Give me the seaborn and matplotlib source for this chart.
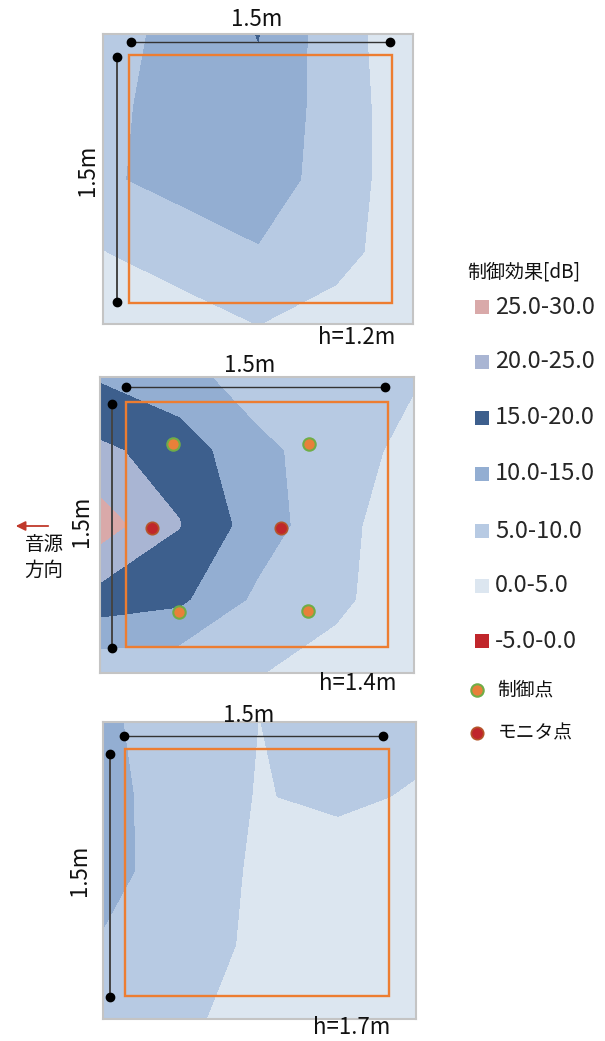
import numpy as np
import matplotlib
matplotlib.use("Agg")
import matplotlib.pyplot as plt
from matplotlib.patches import Rectangle
import seaborn as sns

# ---------------- data ----------------
# grid node coordinates [m] (measurement area is 0 .. 1.5 m)
grid_x = [-0.15, 0.30, 0.75, 1.20, 1.65]
grid_y = [-0.15, 0.30, 0.75, 1.20, 1.65]

# control effect [dB] at grid nodes (rows: top -> bottom)
effect_h12 = [
    [8.0, 11.5, 15.1, 7.0, 2.0],
    [8.0, 13.0, 14.0, 7.5, 2.0],
    [9.5, 11.1, 13.0, 7.5, 2.0],
    [4.8, 8.0, 9.6, 7.0, 1.5],
    [3.0, 2.0, 5.05, 2.6, 2.0],
]
effect_h14 = [
    [14.4, 11.4, 8.0, 8.0, 5.5],
    [20.9, 17.9, 11.0, 8.0, 3.0],
    [27.4, 20.2, 12.5, 6.5, 2.0],
    [17.8, 16.0, 9.0, 6.0, 2.0],
    [6.1, 6.3, 5.2, 3.0, 2.0],
]
effect_h17 = [
    [11.0, 7.0, 4.95, 7.0, 6.5],
    [11.5, 7.6, 4.7, 6.0, 4.5],
    [11.0, 8.5, 4.0, 2.2, 3.0],
    [9.7, 8.0, 3.65, 3.0, 3.0],
    [8.0, 6.5, 1.7, 3.0, 3.0],
]
height_labels = ["h=1.2m", "h=1.4m", "h=1.7m"]

levels = [-5, 0, 5, 10, 15, 20, 25, 30]
level_labels = ["-5.0-0.0", "0.0-5.0", "5.0-10.0", "10.0-15.0",
                "15.0-20.0", "20.0-25.0", "25.0-30.0"]
level_colors = ["#c0262b", "#dce6f0", "#b7cae3", "#93aed2",
                "#3d5f8d", "#a9b5d3", "#d9a9a9"]

control_x = [0.27, 1.05, 0.30, 1.04]
control_y = [0.26, 0.26, 1.28, 1.27]
monitor_x = [0.15, 0.89]
monitor_y = [0.77, 0.77]

legend_title = "制御効果[dB]"
control_label = "制御点"
monitor_label = "モニタ点"
source_label = "音源\n方向"
size_label = "1.5m"

# ---------------- style ----------------
sns.set_theme(style="white")
plt.rcParams["font.family"] = ["Noto Sans CJK JP", "DejaVu Sans"]

W, H = 605, 1041
fig = plt.figure(figsize=(W / 100, H / 100), dpi=100)

# pixel boxes of the three panels (left, top, right, bottom)
panel_boxes = [(103, 34, 413, 324), (100, 377, 414, 673), (103, 722, 416, 1019)]
rects = [(0.0, -0.02, 1.527, 1.518), (0.0, 0.0, 1.5, 1.49), (-0.025, 0.015, 1.493, 1.51)]
hlines = [(-0.102, 0.011, 1.517), (-0.089, 0.0, 1.484), (-0.063, -0.027, 1.463)]
vlines = [(-0.070, -0.009, 1.515), (-0.079, 0.016, 1.498), (-0.110, 0.041, 1.518)]
effects = [effect_h12, effect_h14, effect_h17]

axes = []
for i, (l, t, r, b) in enumerate(panel_boxes):
    ax = fig.add_axes([l / W, 1 - b / H, (r - l) / W, (b - t) / H])
    Z = np.array(effects[i])
    cs = ax.contourf(grid_x, grid_y, Z, levels=levels, colors=level_colors)
    cs.set_edgecolor("face")
    cs.set_linewidth(0.6)
    ax.set_xlim(grid_x[0], grid_x[-1])
    ax.set_ylim(grid_y[-1], grid_y[0])
    ax.set_xticks([])
    ax.set_yticks([])
    ax.set_xlabel("")
    ax.set_ylabel("")
    for s in ax.spines.values():
        s.set_color("#c4c4c4")
        s.set_linewidth(1.5)
    # measurement area
    x0, y0, x1, y1 = rects[i]
    ax.add_patch(Rectangle((x0, y0), x1 - x0, y1 - y0, fill=False,
                           edgecolor="#ed7d31", linewidth=1.7, zorder=5))
    # dimension lines
    hy, hx0, hx1 = hlines[i]
    ax.plot([hx0, hx1], [hy, hy], color="#333333", lw=1.0, zorder=6,
            marker="o", markersize=6, markerfacecolor="black", markeredgecolor="black")
    vx, vy0, vy1 = vlines[i]
    ax.plot([vx, vx], [vy0, vy1], color="#444444", lw=1.4, zorder=6,
            marker="o", markersize=6, markerfacecolor="black", markeredgecolor="black")
    axes.append(ax)

# control / monitor points on h=1.4m
sns.scatterplot(x=control_x, y=control_y, ax=axes[1], s=80, color="#e8803a",
                edgecolor="#70ad47", linewidth=1.5, zorder=8, legend=False)
sns.scatterplot(x=monitor_x, y=monitor_y, ax=axes[1], s=80, color="#c0262b",
                edgecolor="#b5552a", linewidth=1.2, zorder=8, legend=False)
axes[1].set_xlim(grid_x[0], grid_x[-1])
axes[1].set_ylim(grid_y[-1], grid_y[0])
axes[1].set_xlabel("")
axes[1].set_ylabel("")

# ---------------- annotation layer (pixel coords) ----------------
ov = fig.add_axes([0, 0, 1, 1], zorder=10)
ov.set_xlim(0, W)
ov.set_ylim(H, 0)
ov.axis("off")
ov.patch.set_alpha(0)

fs_dim = 16
top_labels = [(257, 20), (250, 366), (249, 716)]
side_labels = [(88, 170), (81, 521), (79, 870)]
h_labels = [(357, 338), (358, 684), (352, 1028)]
for i in range(3):
    ov.text(*top_labels[i], size_label, fontsize=fs_dim, ha="center", va="center", color="#111111")
    ov.text(*side_labels[i], size_label, fontsize=fs_dim, ha="center", va="center",
            rotation=90, color="#111111")
    ov.text(*h_labels[i], height_labels[i], fontsize=fs_dim, ha="center", va="center", color="#111111")

# sound source direction
ov.annotate("", xy=(13, 526), xytext=(51, 526),
            arrowprops=dict(arrowstyle="-|>", color="#c0392b", lw=1.3, mutation_scale=14))
ov.text(44, 557, source_label, fontsize=14, ha="center", va="center",
        linespacing=1.3, color="#111111")

# legend
ov.text(467, 272, legend_title, fontsize=13.7, ha="left", va="center", color="#111111")
leg_y = [307, 362, 418, 474, 531, 586, 641]
order = list(range(len(level_labels)))[::-1]
for yy, k in zip(leg_y, order):
    ov.add_patch(Rectangle((475, yy - 7), 14, 14, facecolor=level_colors[k],
                           edgecolor="none"))
    ov.text(495, yy, level_labels[k], fontsize=17, ha="left", va="center", color="#262626")
ov.scatter([477], [690], s=80, color="#e8803a", edgecolor="#70ad47", linewidth=1.5)
ov.text(497, 690, control_label, fontsize=13.5, ha="left", va="center", color="#111111")
ov.scatter([477], [733], s=80, color="#c0262b", edgecolor="#b5552a", linewidth=1.2)
ov.text(498, 733, monitor_label, fontsize=13.5, ha="left", va="center", color="#111111")

fig.savefig("out.png", dpi=100, facecolor="white")
